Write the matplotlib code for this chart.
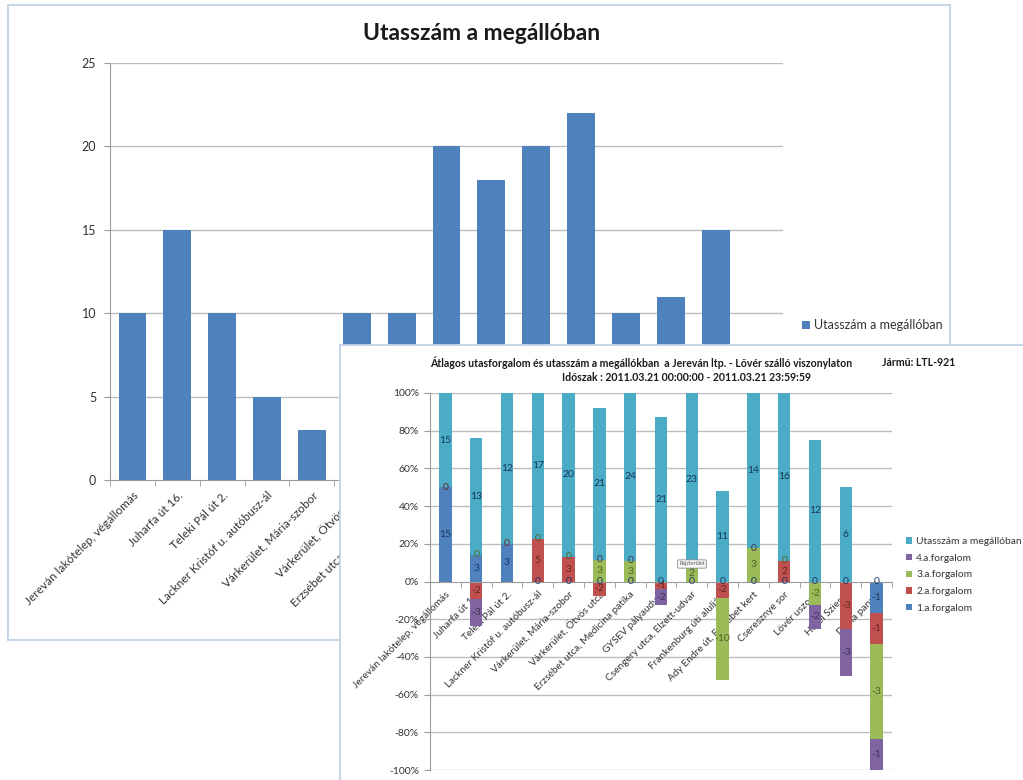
import matplotlib
matplotlib.use('Agg')
import matplotlib.pyplot as plt
import numpy as np
from matplotlib.ticker import FixedLocator, FuncFormatter

plt.rcParams['font.family'] = ['Lato', 'DejaVu Sans']

W, H = 1023, 780

# ---------------- data ----------------
stops = ["Jereván lakótelep, végállomás", "Juharfa út 16.", "Teleki Pál út 2.",
         "Lackner Kristóf u. autóbusz-ál", "Várkerület, Mária-szobor",
         "Várkerület, Ötvös utca", "Erzsébet utca, Medicina patika",
         "GYSEV pályaudvar", "Csengery utca, Elzett-udvar",
         "Frankenburg úti aluljáró", "Ady Endre út, Erzsébet kert",
         "Cseresznye sor", "Lövér uszoda", "Hotel Sziesta", "Diana panzió"]

# background chart: Utasszám a megállóban
chart1_values = [10, 15, 10, 5, 3, 10, 10, 20, 18, 20, 22, 10, 11, 15, 5]

# foreground chart: 100% stacked columns
forgalom1 = [15, 3, 3, 0, 0, 0, 0, 0, 0, 0, 0, 0, 0, 0, -1]
forgalom2 = [0, -2, 0, 5, 3, -2, 0, -1, 0, -2, 0, 2, 0, -3, -1]
forgalom3 = [0, 0, 0, 0, 0, 3, 3, 0, 2, -10, 3, 0, -2, 0, -3]
forgalom4 = [0, -3, 0, 0, 0, 0, 0, -2, 0, 0, 0, 0, -2, -3, -1]
utasszam = [15, 13, 12, 17, 20, 21, 24, 21, 23, 11, 14, 16, 12, 6, 0]
series_names = ["1.a.forgalom", "2.a.forgalom", "3.a.forgalom", "4.a.forgalom",
                "Utasszám a megállóban"]

title1 = "Utasszám a megállóban"
title2a = "Átlagos utasforgalom és utasszám a megállókban  a Jereván ltp. - Lővér szálló viszonylaton"
title2b = "Jármű: LTL-921"
title2c = "Időszak : 2011.03.21 00:00:00 - 2011.03.21 23:59:59"

# ---------------- styling ----------------
colors = ['#4F81BD', '#C0504D', '#9BBB59', '#8064A2', '#4BACC6']
label_colors = ['#1F3864', '#632523', '#4F6228', '#3F3151', '#17365D']
grid_c = '#BDBDBD'
axis_c = '#9A9A9A'
frame_c = '#C3D3E6'


def px_rect(x0, y0, x1, y1):
    return [x0 / W, 1 - y1 / H, (x1 - x0) / W, (y1 - y0) / H]


fig = plt.figure(figsize=(W / 100, H / 100), dpi=100)
fig.patch.set_facecolor('white')

# ---- chart 1 frame ----
bg1 = fig.add_axes(px_rect(8, 5, 950, 640))
bg1.set_xticks([]); bg1.set_yticks([])
for s in bg1.spines.values():
    s.set_color(frame_c); s.set_linewidth(1.3)

# ---- chart 1 ----
ax1 = fig.add_axes(px_rect(110, 63, 783, 480))
ax1.set_facecolor('none')
x = np.arange(len(stops))
ax1.bar(x, chart1_values, width=0.62, color=colors[0], label=title1, zorder=2)
ax1.set_xlim(-0.5, len(stops) - 0.5)
ax1.set_ylim(0, 25)
yt1 = list(range(0, 26, 5))
ax1.set_yticks(yt1)
for yv in yt1[1:]:
    ax1.axhline(yv, color=grid_c, lw=1, zorder=0)
for k in ['top', 'right']:
    ax1.spines[k].set_visible(False)
for k in ['left', 'bottom']:
    ax1.spines[k].set_color(axis_c)
ax1.set_xticks(x)
ax1.set_xticklabels(stops, rotation=45, ha='right', va='top',
                    rotation_mode='anchor', fontsize=8.5, color='#333333')
ax1.xaxis.set_minor_locator(FixedLocator(np.arange(-0.5, len(stops), 1)))
ax1.tick_params(axis='x', which='major', length=0, pad=7)
ax1.tick_params(axis='x', which='minor', length=4, color=axis_c)
ax1.tick_params(axis='y', length=4, color=axis_c, labelsize=9, pad=6,
                labelcolor='#333333')
ax1.legend(loc='center left', bbox_to_anchor=(802 / W, 1 - 325 / H),
           bbox_transform=fig.transFigure, frameon=False, fontsize=9,
           handlelength=0.6, handleheight=0.6, handletextpad=0.4,
           borderaxespad=0, borderpad=0, labelcolor='#333333')
fig.text(482 / W, 1 - 33 / H, title1, ha='center', va='center',
         fontsize=16.5, fontweight='bold', color='#1a1a1a')

# ---- chart 2 frame ----
bg2 = fig.add_axes(px_rect(340, 345, 1040, 800))
bg2.set_xticks([]); bg2.set_yticks([])
bg2.set_facecolor('white')
for s in bg2.spines.values():
    s.set_color(frame_c); s.set_linewidth(1.3)

# ---- chart 2 ----
ax2 = fig.add_axes(px_rect(430, 393, 892, 770))
ax2.set_facecolor('none')
data = np.array([forgalom1, forgalom2, forgalom3, forgalom4, utasszam], float)
total = np.abs(data).sum(axis=0)
pct = data / total * 100
pos = np.zeros(len(stops))
neg = np.zeros(len(stops))
handles = []
zero_done = set()
for i in range(len(data)):
    p = pct[i]
    bottom = np.where(p >= 0, pos, neg)
    bars = ax2.bar(x, p, width=0.4, bottom=bottom, color=colors[i],
                   label=series_names[i], zorder=2)
    handles.append(bars)
    labels = []
    for j, v in enumerate(data[i]):
        if v == 0:
            key = (j, round(bottom[j], 3))
            if key in zero_done:
                labels.append('')
                continue
            zero_done.add(key)
        labels.append(str(int(v)))
    ax2.bar_label(bars, labels=labels, label_type='center', fontsize=7.5,
                  color=label_colors[i])
    pos += np.where(p >= 0, p, 0)
    neg += np.where(p < 0, p, 0)

ax2.set_xlim(-0.5, len(stops) - 0.5)
ax2.set_ylim(-100, 100)
yt2 = list(range(-100, 101, 20))
ax2.set_yticks(yt2)
ax2.yaxis.set_major_formatter(FuncFormatter(lambda v, _: f"{int(v)}%"))
for yv in yt2:
    if yv != 0:
        ax2.axhline(yv, color=grid_c, lw=1, zorder=0)
for k in ['top', 'right']:
    ax2.spines[k].set_visible(False)
ax2.spines['left'].set_color(axis_c)
ax2.spines['bottom'].set_color(axis_c)
ax2.spines['bottom'].set_position(('data', 0))
ax2.set_xticks(x)
ax2.set_xticklabels(stops, rotation=45, ha='right', va='top',
                    rotation_mode='anchor', fontsize=7.3, color='#333333')
ax2.xaxis.set_minor_locator(FixedLocator(np.arange(-0.5, len(stops), 1)))
ax2.tick_params(axis='x', which='major', length=0, pad=6)
ax2.tick_params(axis='x', which='minor', length=4, color=axis_c)
ax2.tick_params(axis='y', length=4, color=axis_c, labelsize=7.5, pad=4,
                labelcolor='#333333')
ax2.legend(handles[::-1], series_names[::-1], loc='upper left',
           bbox_to_anchor=(906 / W, 1 - 537 / H), bbox_transform=fig.transFigure,
           frameon=False, fontsize=7.4, handlelength=0.6, handleheight=0.6,
           handletextpad=0.4, labelspacing=0.75, borderaxespad=0, borderpad=0,
           labelcolor='#333333')

fig.text(430 / W, 1 - 363 / H, title2a, ha='left', va='center', fontsize=7.6,
         fontweight='bold', color='#1a1a1a')
fig.text(882 / W, 1 - 363 / H, title2b, ha='left', va='center', fontsize=7.6,
         fontweight='bold', color='#1a1a1a')
fig.text(686 / W, 1 - 377 / H, title2c, ha='center', va='center', fontsize=7.6,
         fontweight='bold', color='#1a1a1a')
fig.text(692 / W, 1 - 564 / H, "Rajzterület", ha='center', va='center',
         fontsize=4, color='#555555',
         bbox=dict(boxstyle='round,pad=0.3', fc='#F7F7F7', ec='#8A8A8A', lw=0.6))

fig.savefig('out.png', dpi=100)
